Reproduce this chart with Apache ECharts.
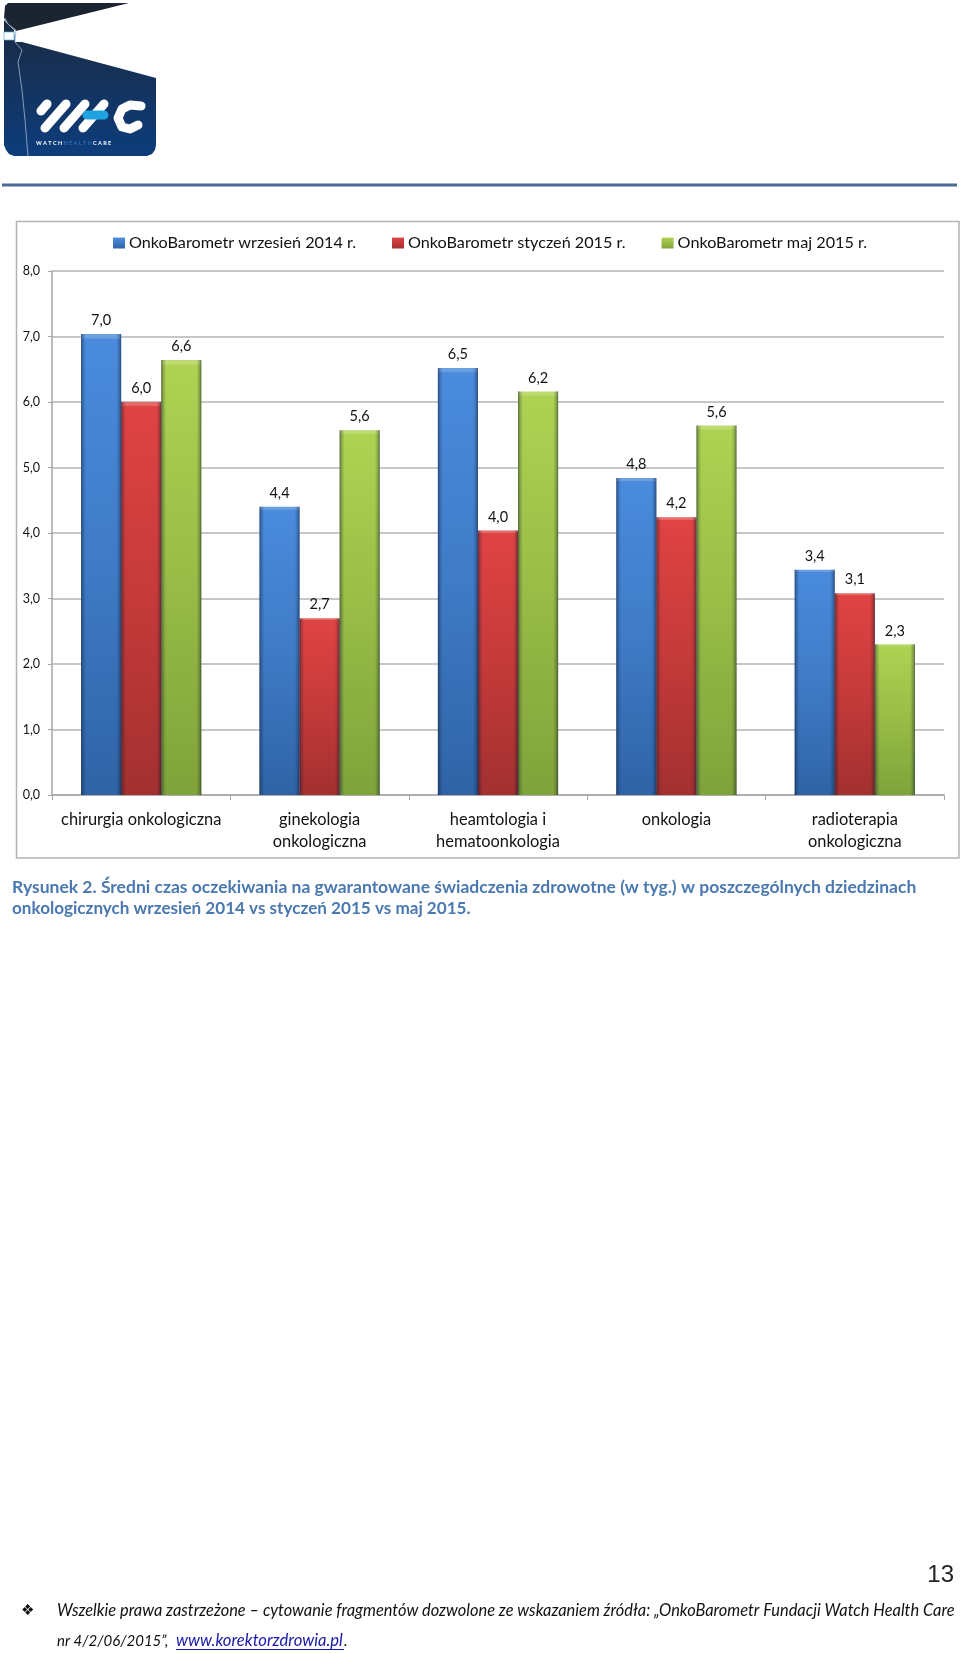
<!DOCTYPE html>
<html>
<head>
<meta charset="utf-8">
<style>
html,body{margin:0;padding:0;background:#fff;}
#main{width:960px;height:1653px;}
</style>
<script src="https://cdn.jsdelivr.net/npm/echarts@6/dist/echarts.min.js"></script>
</head>
<body>
<div id="main"></div>
<script>
var categories = ['chirurgia onkologiczna', 'ginekologia\nonkologiczna', 'heamtologia i\nhematoonkologia', 'onkologia', 'radioterapia\nonkologiczna'];
var names = ['OnkoBarometr wrzesień 2014 r.', 'OnkoBarometr styczeń 2015 r.', 'OnkoBarometr maj 2015 r.'];
var wrzesien = [7.04, 4.40, 6.52, 4.84, 3.44];
var styczen = [6.00, 2.70, 4.04, 4.24, 3.08];
var maj = [6.64, 5.57, 6.16, 5.64, 2.30];

var captionLine1 = 'Rysunek 2. Średni czas oczekiwania na gwarantowane świadczenia zdrowotne (w tyg.) w poszczególnych dziedzinach';
var captionLine2 = 'onkologicznych wrzesień 2014 vs styczeń 2015 vs maj 2015.';
var footerLine1 = 'Wszelkie prawa zastrzeżone – cytowanie fragmentów dozwolone ze wskazaniem źródła: „OnkoBarometr Fundacji Watch Health Care';
var footerLine2 = 'nr 4/2/06/2015”, ';
var footerLink = 'www.korektorzdrowia.pl';

var FONT = 'Lato';

function vgrad(top, light, mid, bottom) {
    return new echarts.graphic.LinearGradient(0, 0, 0, 1, [
        {offset: 0, color: light},
        {offset: 0.008, color: light},
        {offset: 0.012, color: top},
        {offset: 0.5, color: mid},
        {offset: 1, color: bottom}
    ]);
}

/* ciemne krawedzie slupka */
var edgeGrad = new echarts.graphic.LinearGradient(0, 0, 1, 0, [
    {offset: 0, color: 'rgba(10,20,40,0.55)'},
    {offset: 0.05, color: 'rgba(10,20,40,0.22)'},
    {offset: 0.12, color: 'rgba(10,20,40,0)'},
    {offset: 0.88, color: 'rgba(10,20,40,0)'},
    {offset: 0.95, color: 'rgba(10,20,40,0.22)'},
    {offset: 1, color: 'rgba(10,20,40,0.55)'}
]);

function barSeries(name, data, color) {
    return {
        name: name,
        type: 'bar',
        data: data,
        barGap: 0,
        barCategoryGap: '32.6%',
        itemStyle: {color: color},
        label: {
            show: true,
            position: 'top',
            distance: 6,
            fontFamily: FONT,
            fontSize: 14.5,
            color: '#111',
            formatter: function (p) { return p.value.toFixed(1).replace('.', ','); }
        }
    };
}

function edgeSeries(data) {
    return {
        type: 'bar',
        xAxisIndex: 1,
        data: data,
        barGap: 0,
        barCategoryGap: '32.6%',
        silent: true,
        z: 3,
        itemStyle: {color: edgeGrad}
    };
}

/* logo */
function logoLine(points, color, width) {
    return {
        type: 'polyline',
        shape: {points: points},
        style: {stroke: color, lineWidth: width, lineCap: 'round', lineJoin: 'round', fill: null}
    };
}

var logo = [
    {type: 'polygon', shape: {points: [[5, 6], [8, 3], [129, 3], [16, 31], [8, 24], [4, 18]]}, style: {fill: '#1b2431'}},
    {
        type: 'polygon',
        shape: {points: [[4, 20], [14, 30], [15, 42], [22, 42], [156, 78], [156, 145], [155, 150], [152, 154], [147, 156], [14, 156], [9, 154], [6, 150], [4, 145]]},
        style: {
            fill: new echarts.graphic.LinearGradient(0, 0, 0, 1, [
                {offset: 0, color: '#1b2a42'},
                {offset: 1, color: '#0c3d7c'}
            ])
        }
    },
    {type: 'rect', shape: {x: 4, y: 32, width: 10, height: 8}, style: {fill: '#fff', stroke: '#58b7e0', lineWidth: 0.7}},
    logoLine([[5, 18], [8, 24], [16, 30], [15, 42], [22, 50], [18, 62], [22, 90], [25, 120], [28, 156]], '#9fb6cf', 0.8),
    logoLine([[47, 104], [41, 111]], '#fff', 9),
    logoLine([[66, 104], [45, 128]], '#fff', 9),
    logoLine([[85, 104], [64, 128]], '#fff', 9),
    logoLine([[104, 104], [83, 128]], '#fff', 9),
    logoLine([[87, 115], [104, 115]], '#1ea3e0', 9),
    logoLine([[141, 106], [130, 105], [122, 109], [118, 118], [122, 127], [130, 129], [138, 125]], '#fff', 9),
    {
        type: 'text',
        style: {
            x: 36, y: 143,
            text: '{a|W A T C H }{b|H E A L T H }{a|C A R E}',
            verticalAlign: 'middle',
            rich: {
                a: {fill: '#fff', fontSize: 5.5, fontFamily: FONT, fontWeight: 'bold'},
                b: {fill: '#2e6fb0', fontSize: 5.5, fontFamily: FONT, fontWeight: 'bold'}
            }
        }
    }
];

var page = [
    {type: 'rect', shape: {x: 2, y: 183.5, width: 955, height: 3}, style: {fill: '#4a6a9e'}},
    {type: 'rect', shape: {x: 16.5, y: 221.5, width: 942.5, height: 636.5}, style: {fill: null, stroke: '#b3b3b3', lineWidth: 1.5}, z: -1},
    {type: 'text', style: {x: 12, y: 887, text: captionLine1, font: 'bold 17.5px ' + FONT, fill: '#4a78b0', verticalAlign: 'middle'}},
    {type: 'text', style: {x: 12, y: 908, text: captionLine2, font: 'bold 17.1px ' + FONT, fill: '#4a78b0', verticalAlign: 'middle'}},
    {type: 'text', style: {x: 954, y: 1575, text: '13', font: '24px "Liberation Sans"', fill: '#222', align: 'right', verticalAlign: 'middle'}},
    {type: 'text', style: {x: 21, y: 1611, text: '❖', font: '15px "DejaVu Sans"', fill: '#111', verticalAlign: 'middle'}},
    {type: 'text', style: {x: 57, y: 1611, text: footerLine1, font: 'italic 16.4px ' + FONT, fill: '#111', verticalAlign: 'middle'}},
    {type: 'text', style: {x: 57, y: 1641, text: footerLine2, font: 'italic 15px ' + FONT, fill: '#111', verticalAlign: 'middle'}},
    {type: 'text', style: {x: 176, y: 1641, text: footerLink, font: 'italic 16.6px ' + FONT, fill: '#1a1aa8', verticalAlign: 'middle'}},
    {type: 'rect', shape: {x: 176, y: 1649, width: 168, height: 1}, style: {fill: '#1a1aa8'}},
    {type: 'text', style: {x: 344, y: 1641, text: '.', font: 'italic 16px ' + FONT, fill: '#111', verticalAlign: 'middle'}}
];

var myChart = echarts.init(document.getElementById('main'), null, {renderer: 'canvas'});

myChart.setOption({
    animation: false,
    backgroundColor: '#fff',
    legend: {
        data: names,
        icon: 'rect',
        left: 113,
        top: 235,
        padding: 0,
        itemWidth: 12,
        itemHeight: 11,
        itemGap: 36,
        textStyle: {fontFamily: FONT, fontSize: 16.2, color: '#111', padding: [0, 0, 0, -1]}
    },
    grid: {left: 52, right: 16, top: 271, bottom: 858},
    xAxis: [
        {
            type: 'category',
            data: categories,
            axisLine: {lineStyle: {color: '#a6a6a6', width: 1.5}},
            axisTick: {show: true, length: 5, lineStyle: {color: '#a6a6a6'}},
            axisLabel: {interval: 0, margin: 14, fontFamily: FONT, fontSize: 16.4, lineHeight: 21.5, color: '#111', verticalAlign: 'top'}
        },
        {type: 'category', data: categories, show: false}
    ],
    yAxis: {
        type: 'value',
        min: 0,
        max: 8,
        interval: 1,
        axisLine: {show: true, lineStyle: {color: '#a6a6a6', width: 1.5}},
        axisTick: {show: true, length: 4, lineStyle: {color: '#a6a6a6'}},
        splitLine: {lineStyle: {color: '#b5b5b5', width: 1.5}},
        axisLabel: {
            margin: 12,
            fontFamily: FONT,
            fontSize: 12.5,
            color: '#111',
            formatter: function (v) { return v.toFixed(1).replace('.', ','); }
        }
    },
    series: [
        barSeries(names[0], wrzesien, vgrad('#4a8bdd', '#6a9fe0', '#3f7bc6', '#2f63a6')),
        barSeries(names[1], styczen, vgrad('#e04343', '#e66a68', '#c53a3a', '#a33030')),
        barSeries(names[2], maj, vgrad('#aed252', '#bedb72', '#98bc46', '#7fa33a')),
        edgeSeries(wrzesien),
        edgeSeries(styczen),
        edgeSeries(maj)
    ],
    graphic: {elements: logo.concat(page)}
});
</script>
</body>
</html>
